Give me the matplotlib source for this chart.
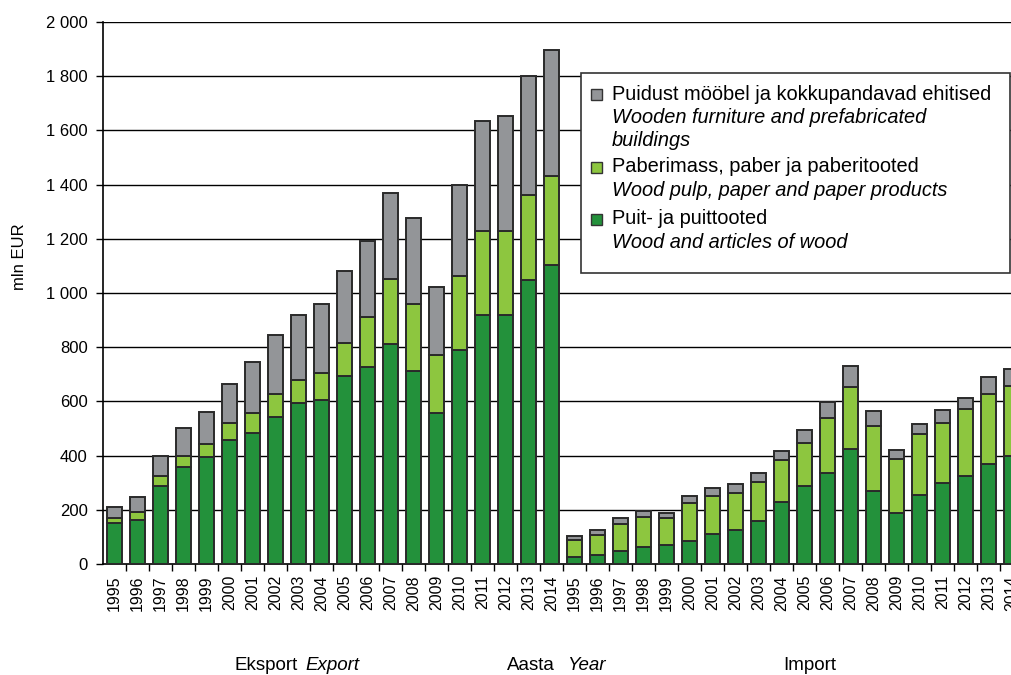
import matplotlib
matplotlib.use("Agg")
import matplotlib.pyplot as plt
from matplotlib.patches import Rectangle
from matplotlib.ticker import FuncFormatter, FixedLocator

plt.rcParams["font.family"] = ["Liberation Sans", "DejaVu Sans"]

years = [str(y) for y in range(1995, 2015)]

# Eksport (mln EUR)
exp_wood = [152, 163, 289, 358, 395, 457, 483, 543, 594, 605,
            693, 728, 810, 712, 556, 788, 919, 917, 1049, 1102]
exp_paper = [19, 29, 36, 39, 47, 62, 73, 85, 84, 100,
             123, 185, 242, 249, 215, 276, 310, 312, 311, 330]
exp_furn = [39, 56, 75, 106, 118, 144, 190, 217, 242, 255,
            264, 280, 316, 315, 251, 335, 406, 424, 440, 465]

# Import (mln EUR)
imp_wood = [27, 32, 47, 64, 69, 86, 109, 125, 159, 227,
            287, 335, 423, 271, 188, 256, 298, 325, 369, 398]
imp_paper = [62, 75, 100, 110, 101, 139, 142, 137, 142, 155,
             161, 204, 231, 239, 201, 224, 224, 247, 259, 259]
imp_furn = [13, 18, 22, 23, 20, 27, 29, 33, 33, 36,
            48, 59, 75, 55, 32, 38, 47, 42, 61, 62]

labels = years + years
wood = exp_wood + imp_wood
paper = exp_paper + imp_paper
furn = exp_furn + imp_furn

c_wood = "#23913b"
c_paper = "#8dc63f"
c_furn = "#939598"
edge = "#2a2a2a"

fig = plt.figure(figsize=(10.11, 6.75), dpi=100)
ax = fig.add_axes([103 / 1011, 111 / 675, 920 / 1011, 542 / 675])

x = list(range(len(labels)))
bottom2 = [a + b for a, b in zip(wood, paper)]
w = 0.63
ax.bar(x, wood, width=w, color=c_wood, edgecolor=edge, linewidth=1.4, zorder=3)
ax.bar(x, paper, width=w, bottom=wood, color=c_paper, edgecolor=edge, linewidth=1.4, zorder=3)
ax.bar(x, furn, width=w, bottom=bottom2, color=c_furn, edgecolor=edge, linewidth=1.4, zorder=3)

ax.set_xlim(-0.5, len(labels) - 0.5)
ax.set_ylim(0, 2000)
ax.set_yticks(range(0, 2001, 200))
ax.yaxis.set_major_formatter(FuncFormatter(lambda v, p: f"{int(v):,}".replace(",", " ")))
for v in range(200, 2001, 200):
    ax.axhline(v, color="black", linewidth=1, zorder=1)

ax.set_xticks(x)
ax.set_xticklabels(labels, rotation=90, fontsize=11.5)
ax.tick_params(axis="x", which="major", length=0, pad=8)
ax.xaxis.set_minor_locator(FixedLocator([i + 0.5 for i in range(len(labels))]))
ax.tick_params(axis="x", which="minor", length=5, width=1, direction="out")
ax.tick_params(axis="y", labelsize=12, length=5, width=1, direction="out", pad=6)

for s in ["top", "right"]:
    ax.spines[s].set_visible(False)
ax.spines["left"].set_linewidth(1.2)
ax.spines["bottom"].set_linewidth(1.2)

fig.text(19 / 1011, 1 - 257 / 675, "mln EUR", rotation=90, ha="center", va="center", fontsize=12)

# bottom captions
fig.text(235 / 1011, 1 - 665 / 675, "Eksport", ha="left", va="center", fontsize=13.5)
fig.text(305 / 1011, 1 - 665 / 675, "Export", ha="left", va="center", fontsize=13.5, style="italic")
fig.text(507 / 1011, 1 - 665 / 675, "Aasta", ha="left", va="center", fontsize=13.5)
fig.text(567 / 1011, 1 - 665 / 675, "Year", ha="left", va="center", fontsize=13.5, style="italic")
fig.text(783 / 1011, 1 - 665 / 675, "Import", ha="left", va="center", fontsize=13.5)


def fx(px):
    return px / 1011


def fy(py):
    return 1 - py / 675


# legend box
fig.patches.append(Rectangle((fx(581), fy(273)), fx(429), 200 / 675, transform=fig.transFigure,
                             facecolor="white", edgecolor="#333333", linewidth=1.2, zorder=5))
entries = [
    (c_furn, 94, ["Puidust mööbel ja kokkupandavad ehitised"],
     ["Wooden furniture and prefabricated", "buildings"]),
    (c_paper, 167, ["Paberimass, paber ja paberitooted"],
     ["Wood pulp, paper and paper products"]),
    (c_wood, 219, ["Puit- ja puittooted"],
     ["Wood and articles of wood"]),
]
for col, ytop, normal, ital in entries:
    fig.patches.append(Rectangle((fx(591), fy(ytop + 5.5)), fx(11), 11 / 675, transform=fig.transFigure,
                                 facecolor=col, edgecolor="#333333", linewidth=1, zorder=6))
    yy = ytop
    for t in normal:
        fig.text(fx(612), fy(yy), t, ha="left", va="center", fontsize=14.4, zorder=7)
        yy += 23.5
    for t in ital:
        fig.text(fx(612), fy(yy), t, ha="left", va="center", fontsize=14.4, style="italic", zorder=7)
        yy += 23.5

fig.savefig("out.png", dpi=100)
